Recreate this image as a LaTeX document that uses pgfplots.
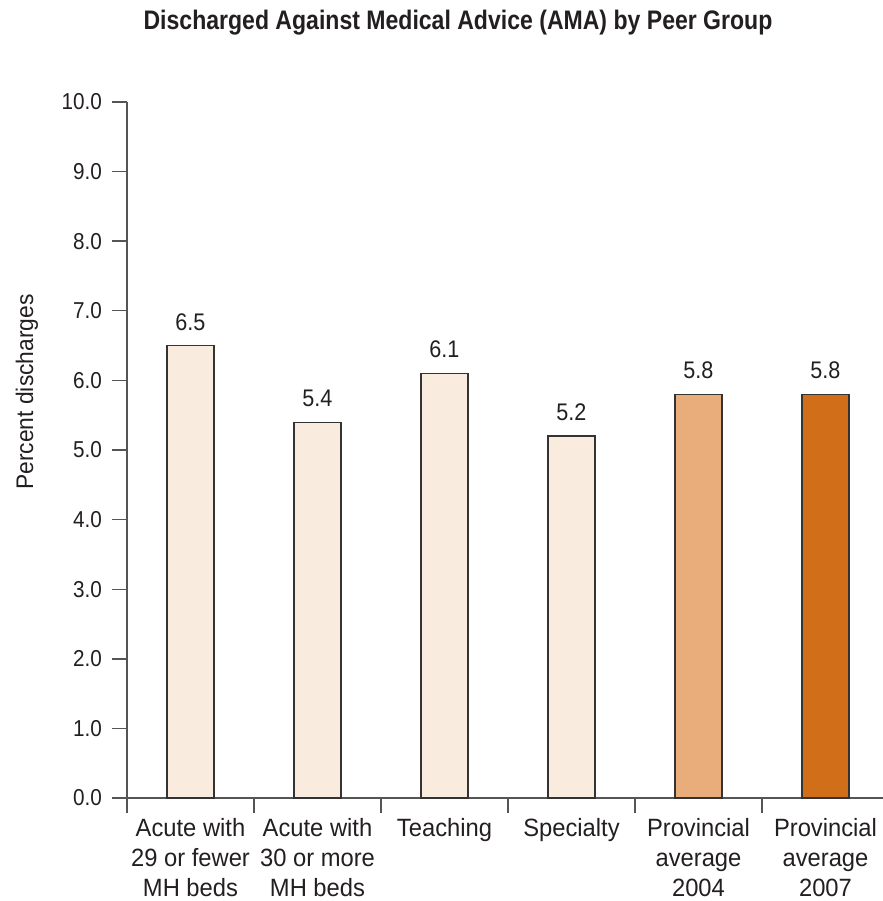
\documentclass[border=0pt]{standalone}
\usepackage{fontspec}
\setmainfont{Liberation Sans}[FakeStretch=0.86]
\newfontfamily\labfont{Liberation Sans}[FakeStretch=0.95]
\newfontfamily\tickfont{Liberation Sans}[FakeStretch=0.9]
\usepackage{pgfplots}
\pgfplotsset{compat=1.18}

\definecolor{txt}{HTML}{231F20}
\definecolor{axisgray}{HTML}{555555}
\definecolor{barline}{HTML}{333333}
\definecolor{barlight}{HTML}{FAEBDF}
\definecolor{bar2004}{HTML}{E8AD7B}
\definecolor{bar2007}{HTML}{D06E1A}

\begin{document}
\begin{tikzpicture}
\useasboundingbox (-63.5pt,-51.5pt) rectangle (378pt,399pt);
\begin{axis}[
    at={(0,0)}, anchor=south west,
    scale only axis,
    width=381pt, height=348pt,
    xmin=-0.5, xmax=5.5,
    ymin=0, ymax=10,
    axis x line=bottom, axis y line=left,
    x axis line style={-, shorten <=-7pt},
    y axis line style={-},
    axis line style={axisgray, line width=0.7pt},
    tick style={axisgray, line width=0.7pt},
    tick align=outside,
    major tick length=7.5pt,
    ytick={0,1,...,10},
    yticklabel style={xshift=-1.5pt, font=\tickfont\fontsize{11.5}{15}\selectfont,
        /pgf/number format/.cd, fixed, fixed zerofill, precision=1, assume math mode=true},
    ticklabel style={text=txt},
    xtick={-0.5,0.5,...,4.5},
    xticklabels={},
    extra x ticks={0,1,2,3,4,5},
    extra x tick labels={Acute with\\29 or fewer\\MH beds, Acute with\\30 or more\\MH beds, Teaching, Specialty, Provincial\\average\\2004, Provincial\\average\\2007},
    extra x tick style={major tick length=0pt, xticklabel style={align=center, anchor=north, yshift=-6.5pt, font=\labfont\fontsize{12.5}{15}\selectfont}},
    nodes near coords,
    nodes near coords style={font=\tickfont\fontsize{12}{14}\selectfont, text=txt, yshift=4pt,
        /pgf/number format/.cd, fixed, fixed zerofill, precision=1, assume math mode=true},
    clip=false,
]
\addplot[ybar, bar shift=0pt, bar width=23.5pt, fill=barlight, draw=barline, line width=0.6pt]
    coordinates {(0,6.5) (1,5.4) (2,6.1) (3,5.2)};
\addplot[ybar, bar shift=0pt, bar width=23.5pt, fill=bar2004, draw=barline, line width=0.6pt]
    coordinates {(4,5.8)};
\addplot[ybar, bar shift=0pt, bar width=23.5pt, fill=bar2007, draw=barline, line width=0.6pt]
    coordinates {(5,5.8)};
\end{axis}
\node[font=\bfseries\fontsize{13.4}{16}\selectfont, text=txt] at (165.5pt,387.5pt)
    {Discharged Against Medical Advice (AMA) by Peer Group};
\node[rotate=90, font=\labfont\fontsize{12}{15}\selectfont, text=txt] at (-50pt,203pt)
    {Percent discharges};
\end{tikzpicture}
\end{document}
